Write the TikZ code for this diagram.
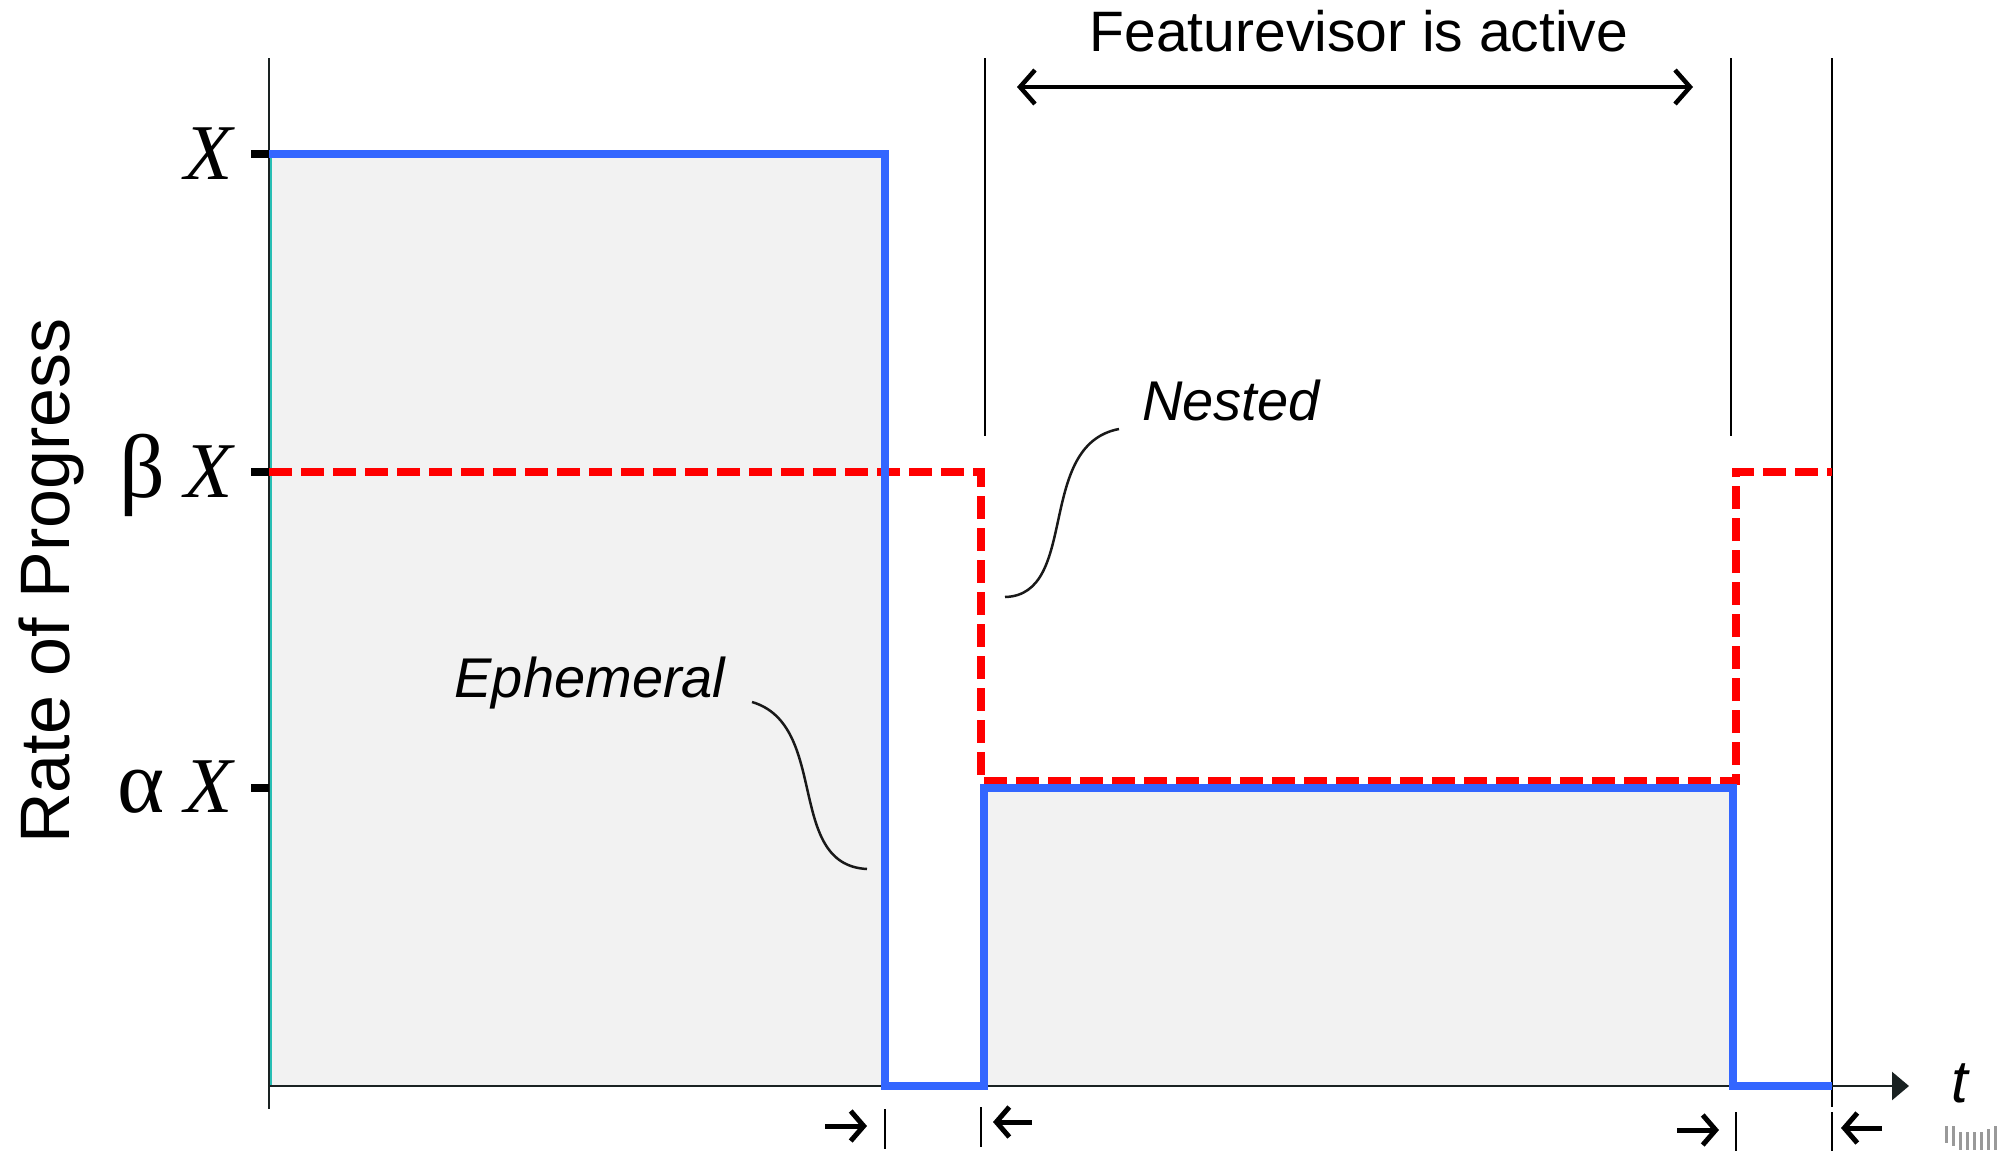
\documentclass[tikz,border=0pt]{standalone}
\usepackage{fontspec}
\setmainfont{Liberation Sans}
\newfontfamily\serifX{Liberation Serif}
\usetikzlibrary{arrows.meta}
\definecolor{progblue}{RGB}{51,102,255}
\definecolor{progred}{RGB}{255,0,0}
\definecolor{fillgray}{RGB}{242,242,242}
\definecolor{axisdark}{RGB}{26,34,34}
\definecolor{edgeteal}{RGB}{40,190,180}
\tikzset{
  bluerate/.style={line width=8pt, draw=progblue, line join=miter},
  redrate/.style={line width=8pt, draw=progred, dash pattern=on 23pt off 9pt, line join=miter},
  thinline/.style={line width=2.5pt, draw=black},
  tickmark/.style={line width=8pt, draw=black},
  leader/.style={line width=2.5pt, draw=black!90},
  markarrow/.style={line width=5pt, -{Straight Barb[length=13pt,width=30pt]}},
  levellabel/.style={font=\serifX\fontsize{79}{80}\selectfont, anchor=base east, inner sep=0pt},
  labeltext/.style={font=\itshape\fontsize{56}{60}\selectfont, anchor=base, inner sep=0pt}
}
\newcommand{\biggreek}[1]{{\fontsize{90}{90}\selectfont #1}}
\begin{document}
\begin{tikzpicture}[x=1pt,y=-1pt]
\useasboundingbox (0,0) rectangle (2011,1151);
% fills
\fill[fillgray] (269,154) rectangle (885,1086);
\fill[fillgray] (984,788) rectangle (1733,1086);
% vertical guide lines
\coordinate (g1t) at (985,58);  \coordinate (g1b) at (985,436);
\coordinate (g2t) at (1731,58); \coordinate (g2b) at (1731,436);
\coordinate (g3t) at (1832,58); \coordinate (g3b) at (1832,1107);
\draw[thinline] (g1t) -- (g1b);
\draw[thinline] (g2t) -- (g2b);
\draw[thinline] (g3t) -- (g3b);
% axes
\coordinate (origin) at (269,1086);
\coordinate (ytop) at (269,58);
\coordinate (ybot) at (269,1109);
\coordinate (xend) at (1909,1086);
\draw[line width=2.5pt, draw=axisdark] (ytop) -- (ybot);
\draw[line width=2.5pt, draw=axisdark, -{Triangle[length=17pt,width=28pt]}] (origin) -- (xend);
\draw[line width=2pt, draw=edgeteal] (271,157) -- (271,1085);
% ticks
\draw[tickmark] (251,154) -- (269,154);
\draw[tickmark] (251,472) -- (269,472);
\draw[tickmark] (251,788) -- (269,788);
% red dashed
\draw[redrate] (269,472) -- (981,472) -- (981,781) -- (1736,781) -- (1736,472) -- (1832,472);
% blue
\draw[bluerate] (269,154) -- (885,154) -- (885,1086) -- (984,1086) -- (984,788) -- (1733,788) -- (1733,1086) -- (1832,1086);
% level labels
\node[levellabel] (lx) at (233,179) {\itshape X};
\node[levellabel] (lbx) at (233,497) {\biggreek{β} \itshape X};
\node[levellabel] (lax) at (233,812) {\biggreek{α} \itshape X};
% axis titles
\node[rotate=90, anchor=base, inner sep=0pt, font=\fontsize{70}{72}\selectfont] (ylab) at (69,581) {Rate of Progress};
\node[anchor=base, inner sep=0pt, font=\itshape\fontsize{60}{62}\selectfont] (tlab) at (1960,1102) {t};
% featurevisor
\node[anchor=base, inner sep=0pt, font=\fontsize{57}{60}\selectfont] (feat) at (1359,51) {Featurevisor is active};
\coordinate (fa) at (1017,87);
\coordinate (fb) at (1693,87);
\draw[line width=4.5pt, {Straight Barb[length=15pt,width=34pt]}-{Straight Barb[length=15pt,width=34pt]}] (fa) -- (fb);
% labels with leaders
\node[labeltext] (nested) at (1231,420) {Nested};
\node[labeltext] (ephem) at (590,697) {Ephemeral};
\coordinate (n1) at (1119,429); \coordinate (n2) at (1005,597);
\coordinate (e1) at (752,702);  \coordinate (e2) at (867,869);
\draw[leader] (n1) .. controls (1035,445) and (1080,595) .. (n2);
\draw[leader] (e1) .. controls (830,725) and (785,865) .. (e2);
% bottom markers
\coordinate (m1t) at (885,1109);  \coordinate (m1b) at (885,1149);
\coordinate (m2t) at (981,1107);  \coordinate (m2b) at (981,1147);
\coordinate (m3t) at (1736,1112); \coordinate (m3b) at (1736,1151);
\coordinate (m4t) at (1832,1112); \coordinate (m4b) at (1832,1151);
\draw[thinline] (m1t) -- (m1b);
\draw[thinline] (m2t) -- (m2b);
\draw[thinline] (m3t) -- (m3b);
\draw[thinline] (m4t) -- (m4b);
\coordinate (a1s) at (825,1126); \coordinate (a1e) at (867,1126);
\coordinate (a2s) at (1032,1122); \coordinate (a2e) at (993,1122);
\coordinate (a3s) at (1677,1130); \coordinate (a3e) at (1719,1130);
\coordinate (a4s) at (1882,1128); \coordinate (a4e) at (1841,1128);
\draw[markarrow] (a1s) -- (a1e);
\draw[markarrow] (a2s) -- (a2e);
\draw[markarrow] (a3s) -- (a3e);
\draw[markarrow] (a4s) -- (a4e);
% faint mark bottom right
\foreach \xx/\yt/\yb in {1946/1126/1143, 1953/1126/1146, 1960/1132/1150, 1967/1132/1150, 1974/1132/1150, 1981/1132/1150, 1988/1129/1150, 1995/1126/1150}
  \fill[black!40] (\xx-1.5,\yt) rectangle (\xx+1.5,\yb);
\end{tikzpicture}
\end{document}
